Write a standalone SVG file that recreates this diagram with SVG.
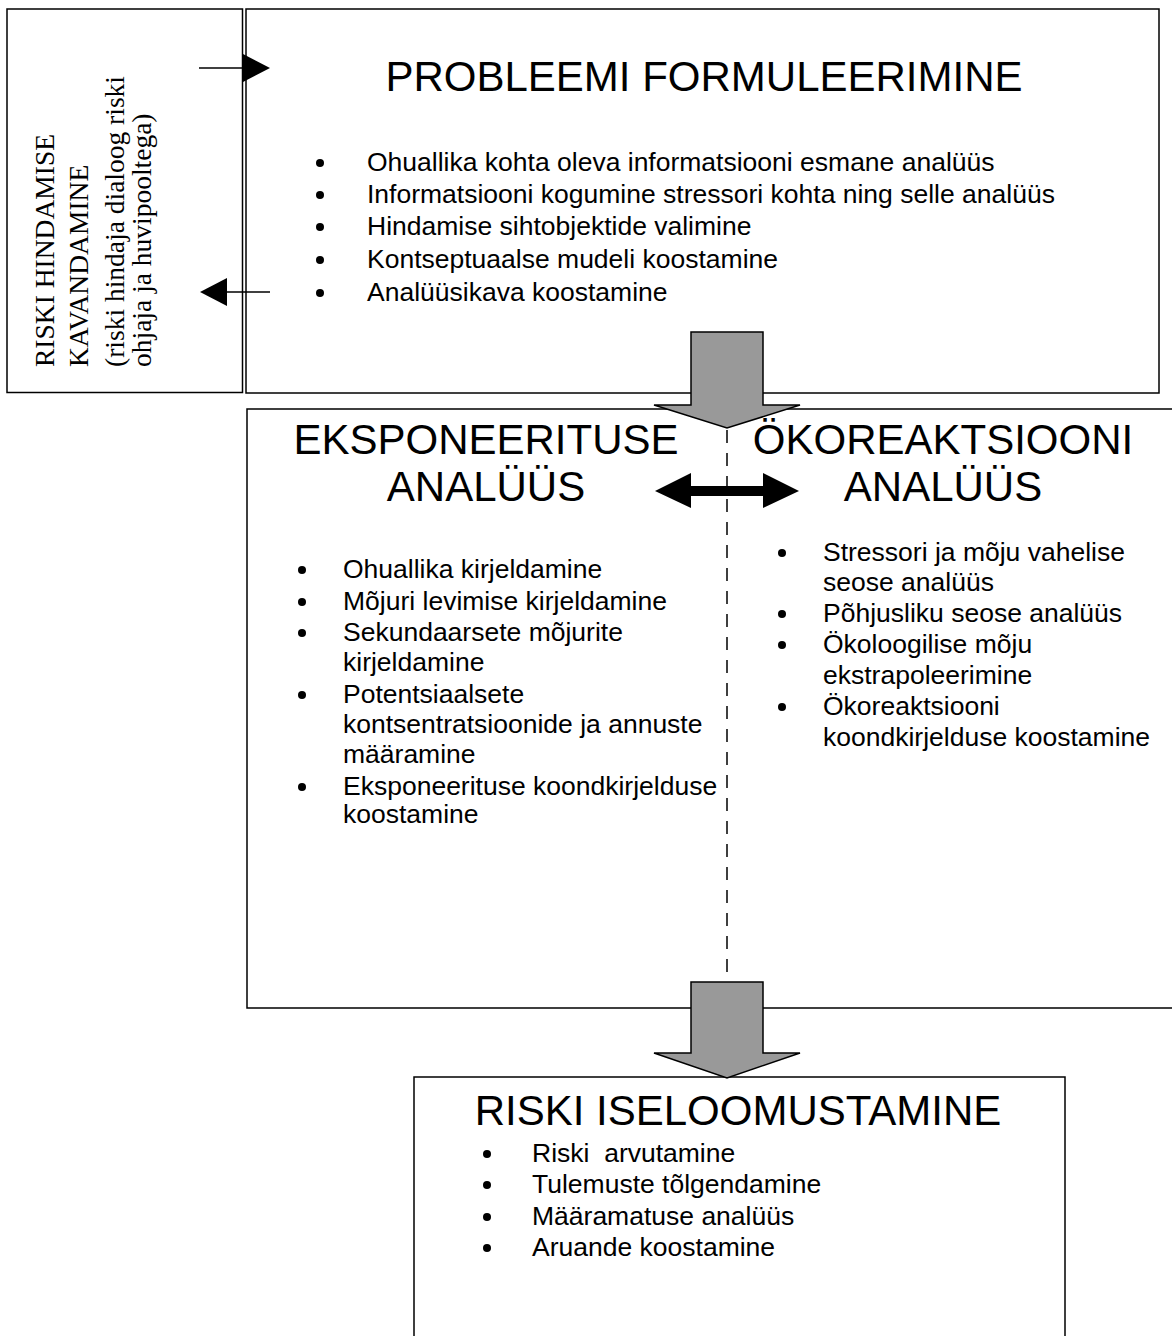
<svg xmlns="http://www.w3.org/2000/svg" width="1172" height="1336" viewBox="0 0 1172 1336">
<style>
.box{fill:none;stroke:#000;stroke-width:1.5}
.sans{font-family:"Liberation Sans",Arial,sans-serif;fill:#000}
.serif{font-family:"Liberation Serif","Times New Roman",serif;fill:#000;font-size:27.5px}
.h{font-size:42px}
.b{font-size:26.5px}
.blockarrow{fill:#999999;stroke:#000;stroke-width:1.5;stroke-linejoin:miter}
.line{stroke:#000;stroke-width:1.5;fill:none}
.head{fill:#000}
.dash{stroke:#000;stroke-width:1.5;stroke-dasharray:13 10;fill:none}
</style>
<defs>
<circle id="dot" r="4" fill="#000"/>
</defs>
<rect width="1172" height="1336" fill="#fff"/>

<g id="node-planning">
<rect class="box" x="7" y="9" width="235.5" height="383.5"/>
<g transform="translate(54,367) rotate(-90)"><text class="serif" x="0" y="0">RISKI HINDAMISE</text></g>
<g transform="translate(88,367) rotate(-90)"><text class="serif" x="0" y="0">KAVANDAMINE</text></g>
<g transform="translate(124,367) rotate(-90)"><text class="serif" x="0" y="0">(riski hindaja dialoog riski</text></g>
<g transform="translate(151,367) rotate(-90)"><text class="serif" x="0" y="0">ohjaja ja huvipooltega)</text></g>
</g>

<g id="node-problem">
<rect class="box" x="246" y="9" width="913" height="384"/>
<text class="sans h" x="704" y="91" text-anchor="middle">PROBLEEMI FORMULEERIMINE</text>
<use href="#dot" x="320" y="163"/><text class="sans b" x="367" y="171">Ohuallika kohta oleva informatsiooni esmane analüüs</text>
<use href="#dot" x="320" y="195"/><text class="sans b" x="367" y="203">Informatsiooni kogumine stressori kohta ning selle analüüs</text>
<use href="#dot" x="320" y="227"/><text class="sans b" x="367" y="235">Hindamise sihtobjektide valimine</text>
<use href="#dot" x="320" y="260"/><text class="sans b" x="367" y="268">Kontseptuaalse mudeli koostamine</text>
<use href="#dot" x="320" y="293"/><text class="sans b" x="367" y="301">Analüüsikava koostamine</text>
</g>

<g id="node-analysis">
<path class="box" d="M1180,409 H247 V1008 H1180"/>
</g>

<g id="node-exposure">
<text class="sans h" x="486" y="454" text-anchor="middle">EKSPONEERITUSE</text>
<text class="sans h" x="486" y="501" text-anchor="middle">ANALÜÜS</text>
<use href="#dot" x="302" y="570"/><text class="sans b" x="343" y="578">Ohuallika kirjeldamine</text>
<use href="#dot" x="302" y="602"/><text class="sans b" x="343" y="610">Mõjuri levimise kirjeldamine</text>
<use href="#dot" x="302" y="633"/><text class="sans b" x="343" y="641">Sekundaarsete mõjurite</text>
<text class="sans b" x="343" y="671">kirjeldamine</text>
<use href="#dot" x="302" y="695"/><text class="sans b" x="343" y="703">Potentsiaalsete</text>
<text class="sans b" x="343" y="733">kontsentratsioonide ja annuste</text>
<text class="sans b" x="343" y="763">määramine</text>
<use href="#dot" x="302" y="787"/><text class="sans b" x="343" y="795">Eksponeerituse koondkirjelduse</text>
<text class="sans b" x="343" y="823">koostamine</text>
</g>

<g id="node-ecoresponse">
<text class="sans h" x="943" y="454" text-anchor="middle">ÖKOREAKTSIOONI</text>
<text class="sans h" x="943" y="501" text-anchor="middle">ANALÜÜS</text>
<use href="#dot" x="782" y="553"/><text class="sans b" x="823" y="561">Stressori ja mõju vahelise</text>
<text class="sans b" x="823" y="591">seose analüüs</text>
<use href="#dot" x="782" y="614"/><text class="sans b" x="823" y="622">Põhjusliku seose analüüs</text>
<use href="#dot" x="782" y="645"/><text class="sans b" x="823" y="653">Ökoloogilise mõju</text>
<text class="sans b" x="823" y="684">ekstrapoleerimine</text>
<use href="#dot" x="782" y="707"/><text class="sans b" x="823" y="715">Ökoreaktsiooni</text>
<text class="sans b" x="823" y="746">koondkirjelduse koostamine</text>
</g>

<g id="node-risk">
<path class="box" d="M414,1340 V1077 H1065 V1340"/>
<text class="sans h" x="738" y="1125" text-anchor="middle">RISKI ISELOOMUSTAMINE</text>
<use href="#dot" x="487" y="1154"/><text class="sans b" x="532" y="1162" xml:space="preserve">Riski  arvutamine</text>
<use href="#dot" x="487" y="1185"/><text class="sans b" x="532" y="1193">Tulemuste tõlgendamine</text>
<use href="#dot" x="487" y="1217"/><text class="sans b" x="532" y="1225">Määramatuse analüüs</text>
<use href="#dot" x="487" y="1248"/><text class="sans b" x="532" y="1256">Aruande koostamine</text>
</g>

<g id="connectors">
<line class="dash" x1="727" y1="430" x2="727" y2="982"/>
<line class="line" x1="199" y1="68" x2="244" y2="68"/>
<polygon class="head" points="243,54 270,68 243,82"/>
<line class="line" x1="270" y1="292" x2="226" y2="292"/>
<polygon class="head" points="227,278 200,292 227,306"/>
<polygon class="blockarrow" points="691,332 763,332 763,405 800,405 727,428 654,405 691,405"/>
<polygon class="blockarrow" points="691,982 763,982 763,1053 800,1053 727,1078 654,1053 691,1053"/>
<polygon class="head" points="655,491 691,473 691,486 763,486 763,473 799,491 763,508 763,496 691,496 691,508"/>
</g>
</svg>
